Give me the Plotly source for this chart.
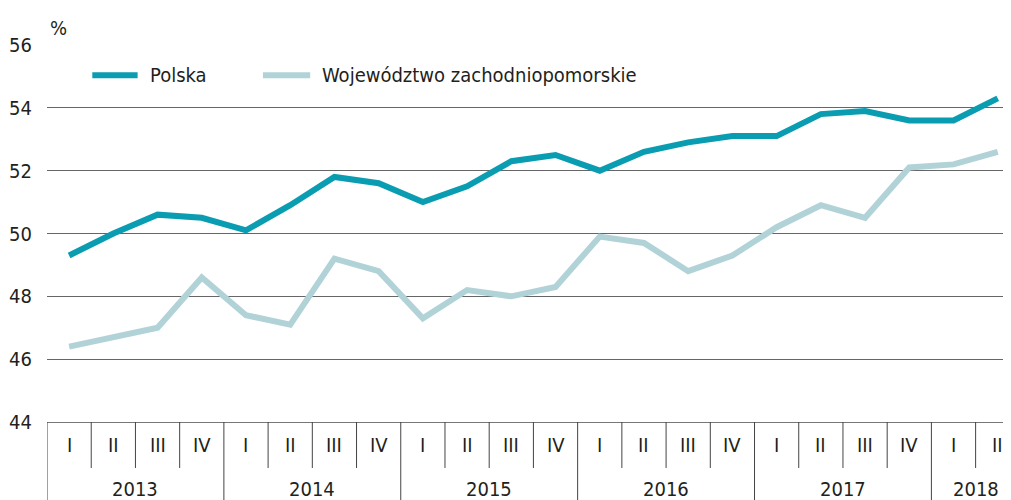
import plotly.graph_objects as go

# Dane kwartalne 2013 I - 2018 II (%)
years = ["2013", "2014", "2015", "2016", "2017", "2018"]
quarters_per_year = [4, 4, 4, 4, 4, 2]
roman = ["I", "II", "III", "IV"]

polska = [49.3, 50.0, 50.6, 50.5, 50.1, 50.9, 51.8, 51.6, 51.0, 51.5, 52.3,
          52.5, 52.0, 52.6, 52.9, 53.1, 53.1, 53.8, 53.9, 53.6, 53.6, 54.3]
zachodniopomorskie = [46.4, 46.7, 47.0, 48.6, 47.4, 47.1, 49.2, 48.8, 47.3,
                      48.2, 48.0, 48.3, 49.9, 49.7, 48.8, 49.3, 50.2, 50.9,
                      50.5, 52.1, 52.2, 52.6]

series_names = ["Polska", "Województwo zachodniopomorskie"]
series_colors = ["#0a9db2", "#b1d3d8"]

y_ticks = [44, 46, 48, 50, 52, 54, 56]

FONT = "DejaVu Sans Condensed, Liberation Sans Narrow, sans-serif"
TEXT = "#231f20"
FS = 20

quarter_labels = [roman[q] for n in quarters_per_year for q in range(n)]
x = list(range(len(quarter_labels)))

fig = go.Figure()
for name, vals, col in zip(series_names, [polska, zachodniopomorskie],
                           series_colors):
    fig.add_trace(go.Scatter(x=x, y=vals, mode="lines", name=name,
                             line=dict(color=col, width=6),
                             showlegend=False))

shapes = []
annotations = []

# etykiety kwartałów i lat oraz linie podziału pod osią
start = 0
for year, n in zip(years, quarters_per_year):
    shapes.append(dict(type="line", xref="x", yref="paper",
                       x0=start - 0.5, x1=start - 0.5, y0=0, y1=-0.25,
                       line=dict(color="#444", width=1)))
    for k in range(1, n):
        shapes.append(dict(type="line", xref="x", yref="paper",
                           x0=start + k - 0.5, x1=start + k - 0.5,
                           y0=0, y1=-0.122,
                           line=dict(color="#444", width=1)))
    annotations.append(dict(x=start + (n - 1) / 2, y=-0.178, xref="x",
                            yref="paper", text=year, showarrow=False,
                            yanchor="middle",
                            font=dict(size=FS, color=TEXT, family=FONT)))
    start += n

for i, lab in enumerate(quarter_labels):
    annotations.append(dict(x=i, y=-0.061, xref="x", yref="paper", text=lab,
                            showarrow=False, yanchor="middle",
                            font=dict(size=FS, color=TEXT, family=FONT)))

# legenda (ręcznie, jak w oryginale)
legend_x = [(0.047, 0.094, 0.105), (0.224, 0.273, 0.283)]
for name, col, (lx0, lx1, tx) in zip(series_names, series_colors, legend_x):
    shapes.append(dict(type="line", xref="paper", yref="paper",
                       x0=lx0, x1=lx1, y0=0.92, y1=0.92,
                       line=dict(color=col, width=6)))
    annotations.append(dict(x=tx, y=0.92, xref="paper", yref="paper",
                            text=name, showarrow=False, xanchor="left",
                            yanchor="middle",
                            font=dict(size=FS, color=TEXT, family=FONT)))

annotations.append(dict(x=0, y=1, xref="paper", yref="paper", text="%",
                        showarrow=False, xanchor="left", yanchor="bottom",
                        xshift=1, yshift=3,
                        font=dict(size=FS, color=TEXT, family=FONT)))

fig.update_layout(
    width=1003, height=492,
    margin=dict(l=39, r=0, t=37, b=78),
    paper_bgcolor="white", plot_bgcolor="white",
    font=dict(family=FONT, size=FS, color=TEXT),
    showlegend=False,
    xaxis=dict(range=[-0.5, 21.3], showgrid=False, zeroline=False,
               showticklabels=False, ticks="", showline=True,
               linecolor="#777", linewidth=1.2),
    yaxis=dict(range=[44, 56], tickvals=y_ticks, showgrid=True,
               gridcolor="#666", gridwidth=1.2, zeroline=False,
               ticks="", ticklabelstandoff=14, showline=False,
               tickfont=dict(size=FS, color=TEXT, family=FONT)),
    shapes=shapes,
    annotations=annotations,
)

fig.write_html("out.html")
